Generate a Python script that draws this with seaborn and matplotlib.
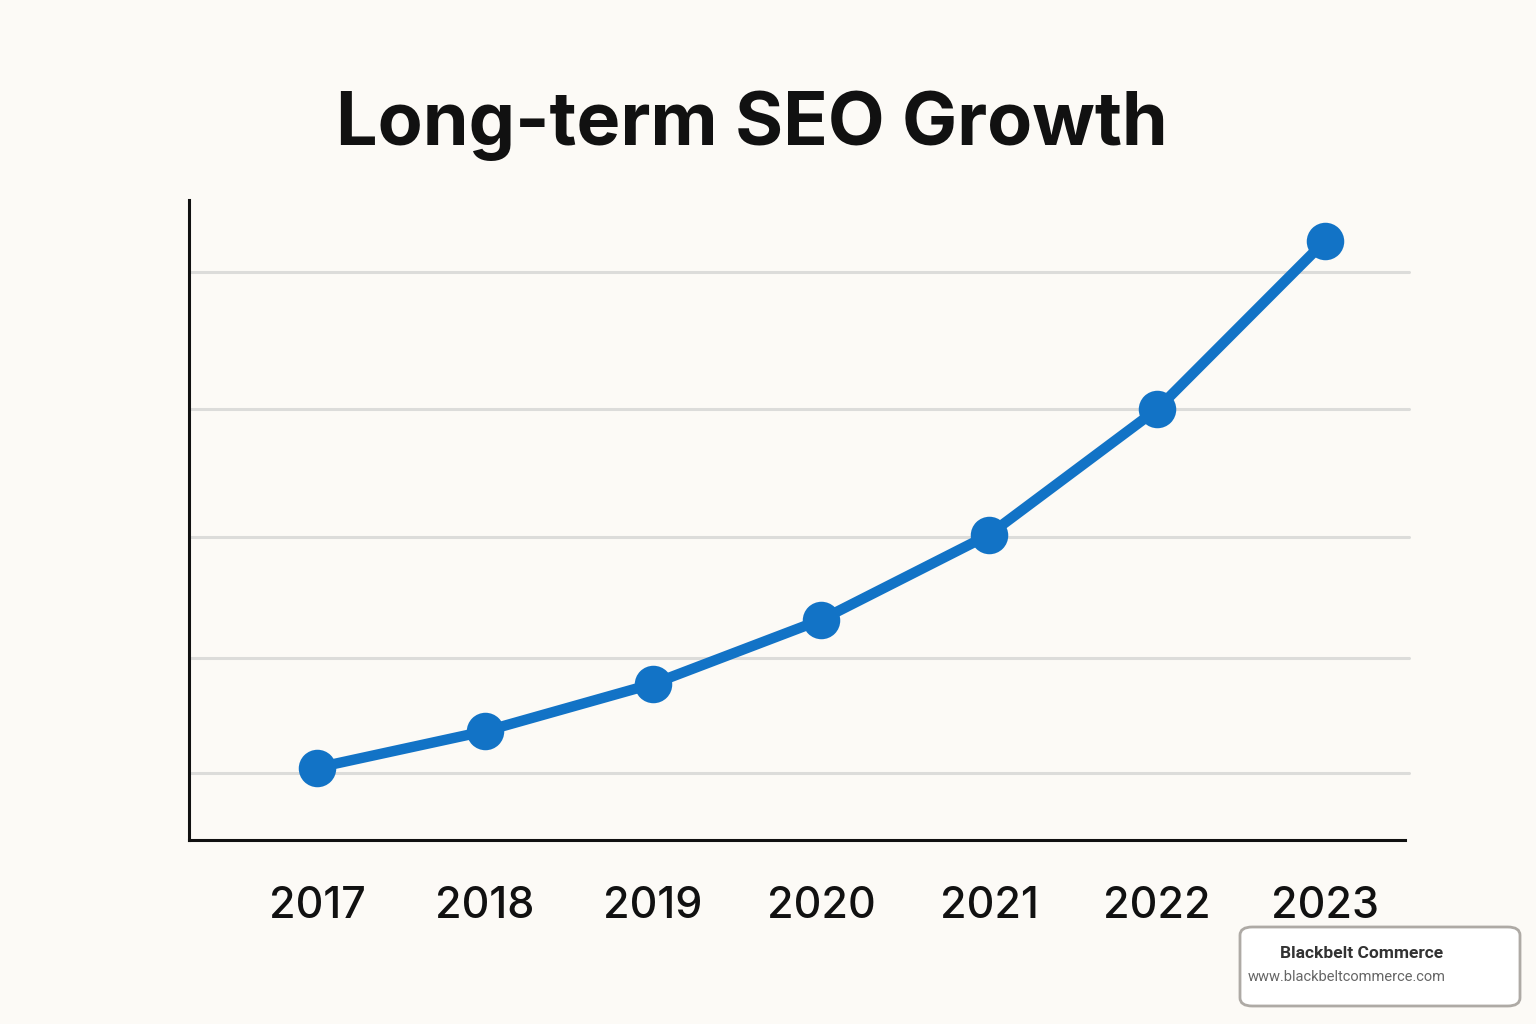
import matplotlib
matplotlib.use("Agg")
import matplotlib.pyplot as plt
import seaborn as sns
import pandas as pd
from matplotlib.patches import FancyBboxPatch

# ---- data (arbitrary index units) ----
years = [2017, 2018, 2019, 2020, 2021, 2022, 2023]
growth = [11.3, 17.0, 24.4, 34.4, 47.7, 67.3, 93.6]
grid_levels = [10.5, 28.4, 47.3, 67.3, 88.8]
year_labels = ["2017", "2018", "2019", "2020", "2021", "2022", "2023"]

title = "Long-term SEO Growth"
brand = "Blackbelt Commerce"
url = "www.blackbeltcommerce.com"

bg = "#FCFAF6"
blue = "#1273C6"

sns.set_theme(style="white")
plt.rcParams["font.family"] = ["Inter", "DejaVu Sans"]

fig = plt.figure(figsize=(15.36, 10.24), dpi=100, facecolor=bg)
ax = fig.add_axes([189 / 1536, 1 - 840 / 1024, (1405 - 189) / 1536, (840 - 200) / 1024])
ax.set_facecolor(bg)

df = pd.DataFrame({"year": years, "growth": growth})

for g in grid_levels:
    ax.axhline(g, color="#DCDCDA", lw=2.2, zorder=1, xmax=1.003, clip_on=False)

sns.lineplot(data=df, x="year", y="growth", ax=ax, color=blue, lw=7.5,
             marker="o", markersize=27, markeredgewidth=0,
             markerfacecolor=blue, zorder=3, solid_capstyle="round")

ax.set_xlim(2016.238, 2023.476)
ax.set_ylim(0, 100)
ax.set_xticks(years)
ax.set_xticklabels(year_labels, fontsize=31, color="#111111", fontweight="medium")
ax.tick_params(axis="x", length=0, pad=33)
ax.set_yticks([])
ax.set_xlabel("")
ax.set_ylabel("")

for s in ["top", "right"]:
    ax.spines[s].set_visible(False)
for s in ["left", "bottom"]:
    ax.spines[s].set_color("#111111")
    ax.spines[s].set_linewidth(2.2)

fig.text(752 / 1536, 1 - 126 / 1024, title, ha="center", va="center",
         fontsize=53, fontweight="bold", color="#111111")

# watermark box
box = FancyBboxPatch((1240 / 1536, 1 - 1006 / 1024), (1520 - 1240) / 1536, (1006 - 927) / 1024,
                     boxstyle="round,pad=0,rounding_size=0.008",
                     transform=fig.transFigure, facecolor="white",
                     edgecolor="#AEAAA5", linewidth=2, zorder=5)
fig.patches.append(box)
fig.text(1362 / 1536, 1 - 954 / 1024, brand, ha="center", va="center",
         fontsize=12.5, fontweight="bold", color="#333333", family=["Roboto", "DejaVu Sans"], zorder=6)
fig.text(1347 / 1536, 1 - 977 / 1024, url, ha="center", va="center",
         fontsize=10.5, color="#666666", family=["Roboto", "DejaVu Sans"], zorder=6)

fig.savefig("out.png", dpi=100, facecolor=bg)
